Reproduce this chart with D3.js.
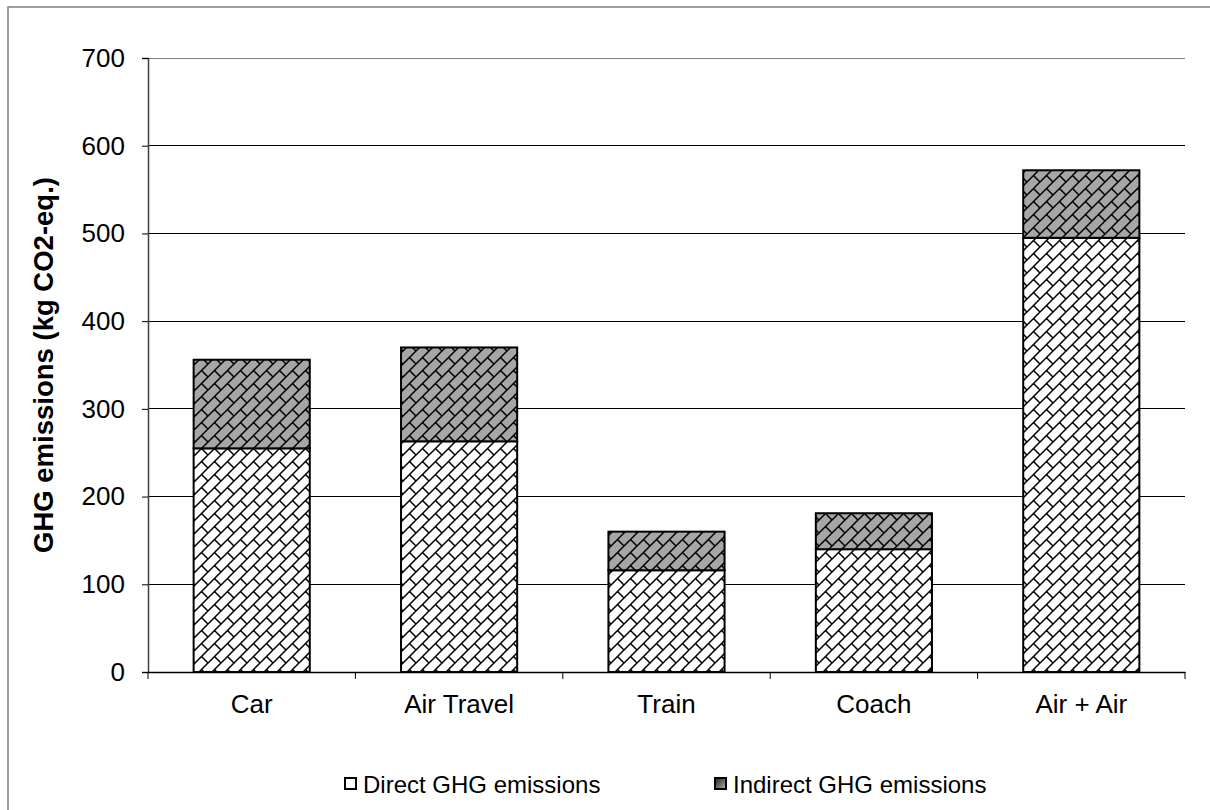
<!DOCTYPE html>
<html>
<head>
<meta charset="utf-8">
<script src="https://cdn.jsdelivr.net/npm/d3@7"></script>
<style>
  body { margin: 0; background: #fff; }
  svg { font-family: "Liberation Sans", Arial, sans-serif; }
</style>
</head>
<body>
<svg id="chart" width="1210" height="810"></svg>
<script>
// ----- data -----
const categories = ["Car", "Air Travel", "Train", "Coach", "Air + Air"];
const direct = [255, 263, 116, 140, 495];
const indirect = [101, 107, 44, 41, 77];
const seriesNames = ["Direct GHG emissions", "Indirect GHG emissions"];
const yTicks = [0, 100, 200, 300, 400, 500, 600, 700];

const svg = d3.select("#chart");
const W = 1210, H = 810;
const m = { left: 148, right: 25, top: 58, bottom: 138 };
const FONT = "Liberation Sans, Arial, sans-serif";

// outer frame
svg.append("rect")
  .attr("x", 8).attr("y", 7).attr("width", W).attr("height", H)
  .attr("fill", "none").attr("stroke", "#7f7f7f").attr("stroke-width", 1.5);

// brick patterns
const defs = svg.append("defs");
const T = 13;
function brick(id, bg) {
  const p = defs.append("pattern")
    .attr("id", id).attr("patternUnits", "userSpaceOnUse")
    .attr("width", T).attr("height", T);
  p.append("rect").attr("width", T).attr("height", T).attr("fill", bg);
  const h = T / 2;
  p.append("path")
    .attr("d", `M-1,${T + 1} L${T + 1},-1 M-1,1 L1,-1 M${T - 1},${T + 1} L${T + 1},${T - 1} M${h},${h} L${T},${T}`)
    .attr("stroke", "#000").attr("stroke-width", 1.5).attr("fill", "none");
}
brick("patDirect", "#ffffff");
brick("patIndirect", "#a6a6a6");

const x = d3.scaleBand().domain(categories)
  .range([m.left, W - m.right]).paddingInner(0.44).paddingOuter(0.22);
const y = d3.scaleLinear().domain([0, 700]).range([H - m.bottom, m.top]);

// gridlines
svg.append("g").selectAll("line").data(yTicks.filter(d => d > 0)).join("line")
  .attr("x1", m.left).attr("x2", W - m.right)
  .attr("y1", d => y(d)).attr("y2", d => y(d))
  .attr("stroke", d => d === 700 ? "#808080" : "#000").attr("stroke-width", 1)
  .attr("shape-rendering", "crispEdges");

// bars
const stack = categories.map((c, i) => ({ c, d: direct[i], ind: indirect[i] }));
const barG = svg.append("g");
barG.selectAll("rect.direct").data(stack).join("rect")
  .attr("class", "direct")
  .attr("x", d => x(d.c)).attr("width", x.bandwidth())
  .attr("y", d => y(d.d)).attr("height", d => y(0) - y(d.d))
  .attr("fill", "url(#patDirect)").attr("stroke", "#000").attr("stroke-width", 2);
barG.selectAll("rect.indirect").data(stack).join("rect")
  .attr("class", "indirect")
  .attr("x", d => x(d.c)).attr("width", x.bandwidth())
  .attr("y", d => y(d.d + d.ind)).attr("height", d => y(d.d) - y(d.d + d.ind))
  .attr("fill", "url(#patIndirect)").attr("stroke", "#000").attr("stroke-width", 2);

// y axis
const yAxis = svg.append("g").attr("transform", `translate(${m.left},0)`)
  .call(d3.axisLeft(y).tickValues(yTicks).tickSize(6).tickPadding(17));
yAxis.attr("font-size", null).attr("font-family", null);
yAxis.select(".domain").attr("stroke", "#404040").attr("stroke-width", 1.5);
yAxis.selectAll(".tick line").attr("stroke", "#000");
yAxis.selectAll("text").attr("font-size", 26).attr("fill", "#000")
  .attr("font-family", FONT);

// x axis
const xAxis = svg.append("g").attr("transform", `translate(0,${y(0)})`)
  .call(d3.axisBottom(x).tickSize(0).tickPadding(23));
xAxis.attr("font-size", null).attr("font-family", null);
xAxis.select(".domain").attr("stroke", "#000").attr("stroke-width", 1.5);
xAxis.selectAll("text").attr("font-size", 26).attr("fill", "#000")
  .attr("font-family", FONT);
// category boundary ticks
const bounds = d3.range(categories.length + 1)
  .map(i => m.left + i * (W - m.right - m.left) / categories.length);
xAxis.selectAll("line.sep").data(bounds).join("line").attr("class", "sep")
  .attr("x1", d => d).attr("x2", d => d).attr("y1", 0).attr("y2", 7)
  .attr("stroke", "#000").attr("stroke-width", 1);

// y title
svg.append("text")
  .attr("transform", `translate(53,${(y(0) + y(700)) / 2}) rotate(-90)`)
  .attr("text-anchor", "middle").attr("font-size", 27.5).attr("font-weight", "bold")
  .text("GHG emissions (kg CO2-eq.)");

// legend
const lg = defs.append("linearGradient").attr("id", "legGrad")
  .attr("x1", 0).attr("y1", 0).attr("x2", 1).attr("y2", 1);
lg.append("stop").attr("offset", "0%").attr("stop-color", "#222");
lg.append("stop").attr("offset", "60%").attr("stop-color", "#777");
lg.append("stop").attr("offset", "100%").attr("stop-color", "#bbb");
const legend = [
  { name: seriesNames[0], x: 345, fill: "#fff" },
  { name: seriesNames[1], x: 715, fill: "url(#legGrad)" }
];
const lgG = svg.append("g").selectAll("g").data(legend).join("g")
  .attr("transform", d => `translate(${d.x},778)`);
lgG.append("rect").attr("width", 11).attr("height", 11)
  .attr("fill", d => d.fill).attr("stroke", "#000").attr("stroke-width", 2);
lgG.append("text").attr("x", 18).attr("y", 15).attr("font-size", 24)
  .text(d => d.name);
</script>
</body>
</html>
